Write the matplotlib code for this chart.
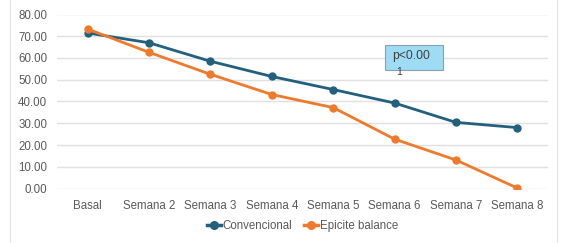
import matplotlib
matplotlib.use("Agg")
import matplotlib.pyplot as plt
from matplotlib.patches import Rectangle
from matplotlib.lines import Line2D

categories = ["Basal", "Semana 2", "Semana 3", "Semana 4", "Semana 5", "Semana 6", "Semana 7", "Semana 8"]
convencional = [71.5, 67.0, 58.5, 51.5, 45.5, 39.3, 30.4, 28.0]
epicite = [73.3, 62.6, 52.5, 43.2, 37.2, 22.7, 13.1, 0.2]
yticks = [0, 10, 20, 30, 40, 50, 60, 70, 80]
series_names = ["Convencional", "Epicite balance"]
annotation = "p<0.00\n1"

plt.rcParams['font.family'] = ['Arial', 'Liberation Sans', 'DejaVu Sans']

fig = plt.figure(figsize=(5.61, 2.43), dpi=100)
ax = fig.add_axes([57/561, 1 - 188.5/243, (548-57)/561, (188.5-14.5)/243])

x = list(range(len(categories)))
c_blue = "#22607e"
c_orange = "#f07a2c"
ax.plot(x, convencional, color=c_blue, lw=2, marker='o', ms=5, label=series_names[0], zorder=3)
ax.plot(x, epicite, color=c_orange, lw=2, marker='o', ms=5, label=series_names[1], zorder=3)

ax.set_xlim(-0.5, 7.5)
ax.set_ylim(0, 80)
ax.set_yticks(yticks)
ax.set_yticklabels([f"{v:.2f}" for v in yticks])
ax.set_xticks(x)
ax.set_xticklabels(categories)
ax.grid(axis='y', color='#e0e0e0', lw=1)
ax.set_axisbelow(True)
for s in ax.spines.values():
    s.set_visible(False)
ax.tick_params(axis='both', length=0, labelsize=8.3, colors='#595959')
ax.tick_params(axis='x', pad=8)
ax.tick_params(axis='y', pad=7)

handles = [Line2D([], [], color=c_blue, lw=2.5, marker='o', ms=5.5),
           Line2D([], [], color=c_orange, lw=2.5, marker='o', ms=5.5)]
leg = ax.legend(handles, series_names, loc='center', bbox_to_anchor=(0.5, -0.215), ncol=2, frameon=False,
                fontsize=8.3, handlelength=1.2, handletextpad=0.15, columnspacing=1.0)
for t in leg.get_texts():
    t.set_color('#595959')

# annotation box
fig.patches.append(Rectangle((385/561, 1 - 70/243), 58/561, 25/243, transform=fig.transFigure,
                             facecolor='#9ddcf4', edgecolor='#8aa0ab', lw=0.8, zorder=5))
fig.text(392/561, 1 - 56/243, "p<0.00", fontsize=8.7, color='#404040', va='center', ha='left', zorder=6)
fig.text(396/561, 1 - 72/243, "1", fontsize=7.5, color='#404040', va='center', ha='left', zorder=6)

# outer frame
fig.patches.append(Rectangle((10/561, -0.05), (557-10)/561, 1.2, transform=fig.transFigure,
                             facecolor='none', edgecolor='#e3e3e3', lw=0.8))

fig.savefig("out.png", dpi=100)
